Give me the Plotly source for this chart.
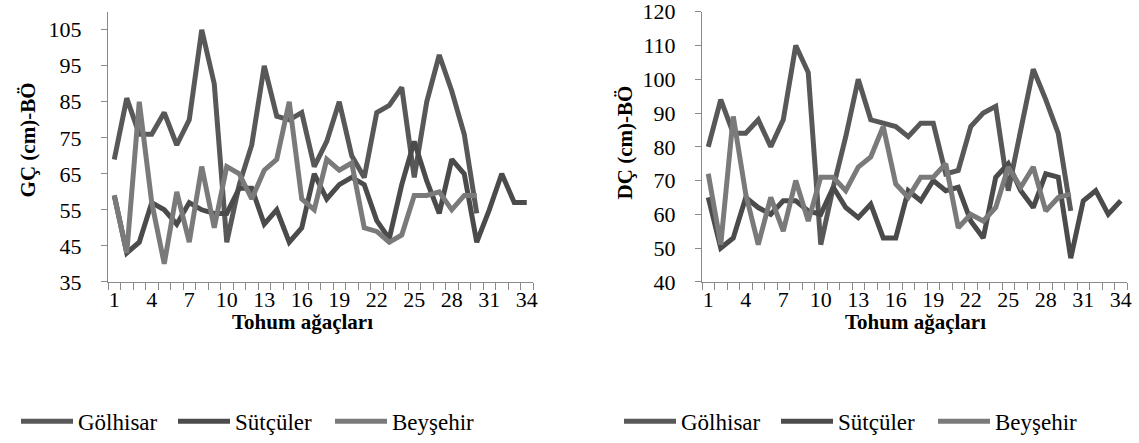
import plotly.graph_objects as go

# seed tree numbers (x categories)
trees = list(range(1, 35))

# GÇ (cm)-BÖ, left chart
gol_gc = [69, 86, 76, 76, 82, 73, 80, 105, 90, 46, 62, 73, 95, 81, 80, 82, 67, 74, 85, 70,
          64, 82, 84, 89, 64, 85, 98, 88, 76, 54]
sut_gc = [59, 43, 46, 57, 55, 51, 57, 55, 54, 54, 61, 61, 51, 55, 46, 50, 65, 58, 62, 64,
          62, 52, 47, 62, 74, 63, 54, 69, 65, 46, 55, 65, 57, 57]
bey_gc = [59, 43, 85, 57, 40, 60, 46, 67, 50, 67, 65, 58, 66, 69, 85, 58, 55, 69, 66, 68,
          50, 49, 46, 48, 59, 59, 60, 55, 59, 59]

# DÇ (cm)-BÖ, right chart
gol_dc = [80, 94, 84, 84, 88, 80, 88, 110, 102, 51, 68, 83, 100, 88, 87, 86, 83, 87, 87, 72,
          73, 86, 90, 92, 67, 85, 103, 94, 84, 61]
sut_dc = [65, 50, 53, 65, 62, 60, 64, 64, 61, 60, 68, 62, 59, 63, 53, 53, 67, 64, 70, 67,
          68, 58, 53, 71, 75, 67, 62, 72, 71, 47, 64, 67, 60, 64]
bey_dc = [72, 51, 89, 66, 51, 65, 55, 70, 58, 71, 71, 67, 74, 77, 86, 69, 65, 71, 71, 75,
          56, 60, 58, 62, 74, 68, 74, 61, 65, 66]

names = ["Gölhisar", "Sütçüler", "Beyşehir"]
colors = ["#585858", "#4b4b4b", "#7a7a7a"]

x_ticks = list(range(1, 35, 3))
gc_ticks = list(range(35, 106, 10))
dc_ticks = list(range(40, 121, 10))

W, H = 1139, 443
FONT = "Liberation Serif"
AX = "#898989"


def px(x):
    return x / W


def py(y):
    return 1 - y / H


fig = go.Figure()

for vals, name, col in zip([gol_gc, sut_gc, bey_gc], names, colors):
    fig.add_trace(go.Scatter(x=trees[:len(vals)], y=vals, name=name, mode="lines",
                             line=dict(color=col, width=5), xaxis="x", yaxis="y",
                             legend="legend"))

for vals, name, col in zip([gol_dc, sut_dc, bey_dc], names, colors):
    fig.add_trace(go.Scatter(x=trees[:len(vals)], y=vals, name=name, mode="lines",
                             line=dict(color=col, width=5), xaxis="x2", yaxis="y2",
                             legend="legend2"))


def xaxis(dom, anchor):
    return dict(domain=dom, anchor=anchor, range=[0.5, 34.5], automargin=False,
                tickmode="array", tickvals=x_ticks,
                ticks="outside", ticklen=0, tickcolor="rgba(0,0,0,0)",
                ticklabelstandoff=-2, ticklabeloverflow="allow",
                minor=dict(ticks="outside", tick0=0.5, dtick=1, ticklen=7,
                           tickcolor=AX, showgrid=False),
                showline=True, linecolor=AX, linewidth=1,
                showgrid=False, zeroline=False,
                tickfont=dict(family=FONT, size=22))


def yaxis(dom, anchor, rng, ticks):
    return dict(domain=dom, anchor=anchor, range=rng, automargin=False,
                tickmode="array", tickvals=ticks,
                ticks="outside", ticklen=6, tickcolor=AX,
                ticklabelstandoff=15, ticklabeloverflow="allow",
                showline=True, linecolor=AX, linewidth=1,
                showgrid=False, zeroline=False,
                tickfont=dict(family=FONT, size=22))


ydom = [py(287), py(12)]

title_font = dict(family=FONT, size=21, color="black")
annotations = [
    dict(text="<b>Tohum ağaçları</b>", x=px(302), y=py(328)),
    dict(text="<b>Tohum ağaçları</b>", x=px(915), y=py(328)),
    dict(text="<b>GÇ (cm)-BÖ</b>", x=px(28), y=py(143), textangle=-90),
    dict(text="<b>DÇ (cm)-BÖ</b>", x=px(625), y=py(145), textangle=-90),
]
for a in annotations:
    a.update(xref="paper", yref="paper", xanchor="center", yanchor="middle",
             showarrow=False, font=title_font)

legend_style = dict(orientation="h", y=py(429), xanchor="left", yanchor="middle",
                    itemwidth=52, entrywidth=90, font=dict(family=FONT, size=23),
                    bgcolor="rgba(0,0,0,0)")

fig.update_layout(
    template="none",
    width=W, height=H,
    margin=dict(l=0, r=0, t=0, b=0),
    plot_bgcolor="white", paper_bgcolor="white",
    font=dict(family=FONT, size=22, color="black"),
    xaxis=xaxis([px(108), px(533)], "y"),
    yaxis=yaxis(ydom, "x", [35, 110], gc_ticks),
    xaxis2=xaxis([px(702), px(1127)], "y2"),
    yaxis2=yaxis(ydom, "x2", [40, 120], dc_ticks),
    annotations=annotations,
    legend=dict(x=px(16), **legend_style),
    legend2=dict(x=px(619), **legend_style),
)

# drop the page's default 8px body margin so the figure sits at the window corner
fig.write_html("out.html", config={"displayModeBar": False},
               post_script="document.body.style.margin='0';")
